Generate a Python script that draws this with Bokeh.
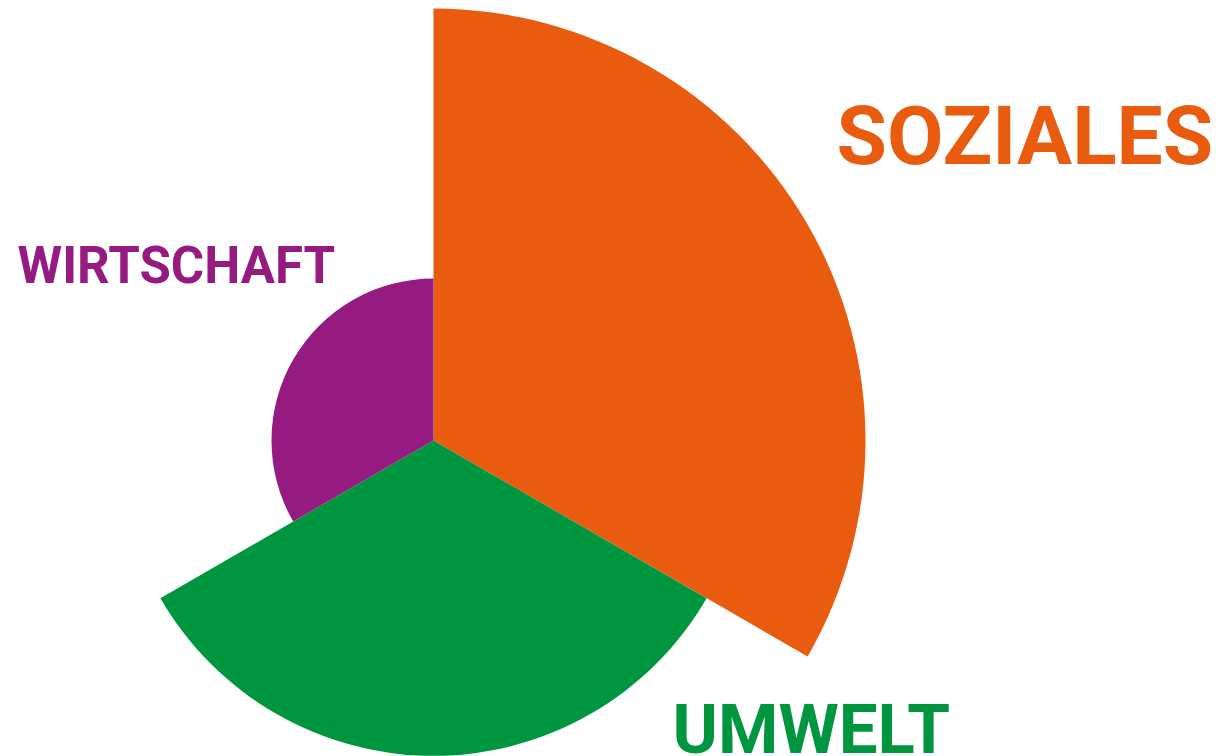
from bokeh.plotting import figure
from bokeh.models import ColumnDataSource
from bokeh.core.properties import value
from bokeh.embed import file_html
from bokeh.resources import INLINE
import math

# Data
categories = ["SOZIALES", "UMWELT", "WIRTSCHAFT"]
values = [100, 73, 37.5]          # radius of each wedge (polar area)
start_deg = [-30, 210, 90]
end_deg = [90, 330, 210]
colors = ["#E95C0F", "#00963F", "#951B81"]

SCALE = 4.32  # px per unit
CX, CY = 433, 440  # centre in px from top-left
W, H = 1222, 756

p = figure(width=W, height=H, output_backend="svg", toolbar_location=None,
           x_range=(-CX / SCALE, (W - CX) / SCALE),
           y_range=(-(H - CY) / SCALE, CY / SCALE),
           min_border=0, match_aspect=False)
p.axis.visible = False
p.grid.visible = False
p.outline_line_color = None
p.background_fill_color = "white"
p.border_fill_color = "white"

src = ColumnDataSource(dict(
    x=[0] * 3, y=[0] * 3, r=values,
    s=[math.radians(a) for a in start_deg],
    e=[math.radians(a) for a in end_deg],
    c=colors))
p.wedge(x="x", y="y", radius="r", start_angle="s", end_angle="e",
        fill_color="c", line_color=None, source=src)

# labels
lab_x = [(836 - CX) / SCALE, (672 - CX) / SCALE, (17 - CX) / SCALE]
lab_y = [(CY - 135) / SCALE, (CY - 729) / SCALE, (CY - 265) / SCALE]
sizes = ["82px", "69px", "51px"]
for t, x, y, c, s in zip(categories, lab_x, lab_y, colors, sizes):
    p.text(x=[x], y=[y], text=[t], text_color=c, text_font=value("Roboto"),
           text_font_style="bold", text_font_size=s, text_align="left",
           text_baseline="alphabetic")

open("out.html", "w").write(file_html(p, INLINE))
